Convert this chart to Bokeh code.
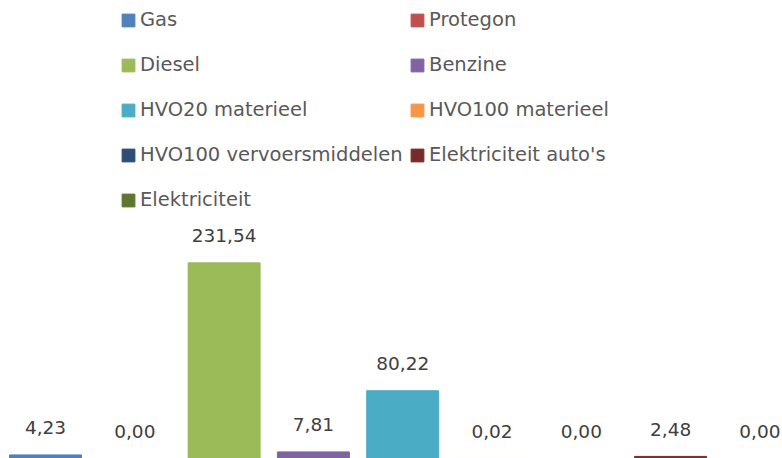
from bokeh.plotting import figure
from bokeh.models import ColumnDataSource, Legend, LegendItem, Range1d
from bokeh.core.properties import value
from bokeh.embed import file_html
from bokeh.resources import INLINE

categories = ["Gas", "Protegon", "Diesel", "Benzine", "HVO20 materieel",
              "HVO100 materieel", "HVO100 vervoersmiddelen",
              "Elektriciteit auto's", "Elektriciteit"]
values = [4.23, 0.00, 231.54, 7.81, 80.22, 0.02, 0.00, 2.48, 0.00]
colors = ["#4F81BD", "#C0504D", "#9BBB59", "#8064A2", "#4BACC6",
          "#F79646", "#2C4D75", "#772C2A", "#5F7530"]

labels = [f"{v:.2f}".replace(".", ",") for v in values]
xs = list(range(len(categories)))

source = ColumnDataSource(dict(x=xs, top=values, color=colors, label=labels, cat=categories))

W, H = 782, 458
spacing_px = 89.3
first_center = 45
x0 = -first_center / spacing_px
x1 = x0 + W / spacing_px
px_per_unit = 0.845

p = figure(width=W, height=H, output_backend="svg", toolbar_location=None,
           x_range=Range1d(x0, x1), y_range=Range1d(0, H / px_per_unit),
           min_border=0, min_border_left=0, min_border_right=0,
           min_border_top=0, min_border_bottom=0)
p.xaxis.visible = False
p.yaxis.visible = False
p.grid.visible = False
p.outline_line_color = None
p.background_fill_color = "white"
p.border_fill_color = "white"

r = p.vbar(x="x", top="top", width=72 / spacing_px, bottom=0, color="color", source=source)

p.text(x="x", y="top", text="label", source=source, text_align="center",
       text_baseline="alphabetic", y_offset=-27, text_color="#404040",
       text_font=value("DejaVu Sans"), text_font_size="18.5px")

items1 = [LegendItem(label=categories[i], renderers=[r], index=i) for i in [0, 2, 4, 6, 8]]
items2 = [LegendItem(label=categories[i], renderers=[r], index=i) for i in [1, 3, 5, 7]]

ITEM_H = 23
GAP = 22

def make_legend(items, loc):
    lg = Legend(items=items, location=loc, orientation="vertical",
                glyph_width=16, glyph_height=16, label_standoff=4,
                spacing=GAP, padding=0, margin=0,
                label_text_font="DejaVu Sans", label_text_font_size="19.5px",
                label_text_color="#595959", label_height=ITEM_H,
                border_line_color=None, background_fill_alpha=0)
    return lg

lg_h1 = 5 * ITEM_H + 4 * GAP
lg_h2 = 4 * ITEM_H + 3 * GAP
top = 8
p.add_layout(make_legend(items1, (120, H - top - lg_h1)), "center")
p.add_layout(make_legend(items2, (409, H - top - lg_h2)), "center")

open("out.html", "w").write(file_html(p, INLINE))
